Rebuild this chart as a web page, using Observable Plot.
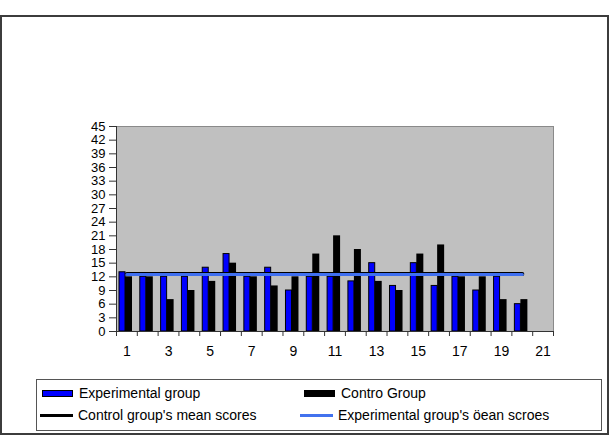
<!DOCTYPE html>
<html>
<head>
<meta charset="utf-8">
<script src="https://cdn.jsdelivr.net/npm/d3@7"></script>
<script src="https://cdn.jsdelivr.net/npm/@observablehq/plot@0.6"></script>
<style>
  html, body { margin: 0; padding: 0; background: #fff; }
  #chart { position: relative; width: 610px; height: 436px; font-family: "Liberation Sans", Arial, sans-serif; }
  #outer { position: absolute; left: 0px; top: 15px; width: 605px; height: 416px; border: 2px solid #3c3c3c; }
  #chart svg { position: absolute; left: 0; top: 0; }
  #legend { position: absolute; left: 36px; top: 379px; width: 564px; height: 50px; border: 1px solid #555; background: #fff; }
  .item { position: absolute; display: flex; align-items: center; font-size: 14px; color: #000; white-space: nowrap; }
  .swatch { width: 31px; height: 7px; border: 1px solid #000; margin-right: 6px; box-sizing: border-box; }
  .lineswatch { width: 33px; height: 3px; margin-right: 5px; }
</style>
</head>
<body>
<div id="chart">
  <div id="outer"></div>
  <div id="legend">
    <div class="item" style="left:5px;top:5px"><div class="swatch" style="background:#0000ff"></div>Experimental group</div>
    <div class="item" style="left:267px;top:5px"><div class="swatch" style="background:#000"></div>Contro Group</div>
    <div class="item" style="left:3px;top:27px"><div class="lineswatch" style="background:#000"></div>Control group's mean scores</div>
    <div class="item" style="left:263px;top:27px"><div class="lineswatch" style="background:#4272ee"></div>Experimental group's öean scroes</div>
  </div>
</div>
<script>
// Student numbers along the x axis (21 slots, the last one empty)
const categories = [1, 2, 3, 4, 5, 6, 7, 8, 9, 10, 11, 12, 13, 14, 15, 16, 17, 18, 19, 20, 21];
// Scores of the experimental group, students 1–20
const experimental = [13, 12, 12, 12, 14, 17, 12, 14, 9, 12, 12, 11, 15, 10, 15, 10, 12, 9, 12, 6];
// Scores of the control group, students 1–20
const control = [12, 12, 7, 9, 11, 15, 12, 10, 12, 17, 21, 18, 11, 9, 17, 19, 12, 12, 7, 7];
// Mean score of each group, drawn as a horizontal line
const controlMean = 12.6;
const experimentalMean = 12.5;
// Y axis tick values
const yTicks = [0, 3, 6, 9, 12, 15, 18, 21, 24, 27, 30, 33, 36, 39, 42, 45];

const rows = experimental.map((e, i) => ({student: categories[i], experimental: e, control: control[i]}));
const first = categories[0], last = categories[experimental.length - 1];
const meanLine = (v) => [{student: first, v}, {student: last, v}];

const W = 610, H = 436, mL = 116, mR = 57, mT = 126, mB = 105;
const bw = (W - mL - mR) / categories.length;

const plot = Plot.plot({
  width: W,
  height: H,
  marginLeft: mL,
  marginRight: mR,
  marginTop: mT,
  marginBottom: mB,
  style: {fontFamily: "'Liberation Sans', Arial, sans-serif", fontSize: "13px", background: "transparent", overflow: "visible"},
  x: {type: "band", domain: categories, padding: 0, round: false, axis: null},
  y: {domain: [0, 45], axis: null},
  marks: [
    Plot.frame({fill: "#c0c0c0", stroke: "#8a8a8a"}),
    Plot.barY(rows, {x: "student", y: "experimental", fill: "#0000ff", stroke: "#000", strokeWidth: 1, insetLeft: 3, insetRight: bw - 9}),
    Plot.barY(rows, {x: "student", y: "control", fill: "#000", insetLeft: 9, insetRight: bw - 16}),
    Plot.line(meanLine(controlMean), {x: "student", y: "v", stroke: "#000", strokeWidth: 4}),
    Plot.line(meanLine(experimentalMean), {x: "student", y: "v", stroke: "#3f6ff0", strokeWidth: 3}),
    Plot.ruleY([0], {stroke: "#333"}),
    Plot.ruleX([first], {dx: -bw / 2, y1: 0, y2: 45, stroke: "#333"}),
    Plot.axisY({ticks: yTicks, tickSize: 7, tickPadding: 4, stroke: "#333", fill: "#000", fontSize: 13, label: null}),
    Plot.axisX({tickSize: 0, tickPadding: 15, fill: "#000", fontSize: 14, label: null, tickFormat: d => d % 2 ? String(d) : ""}),
    Plot.axisX({tickSize: 5, tickFormat: () => "", label: null, dx: -bw / 2, stroke: "#333"}),
    Plot.axisX({ticks: [categories[categories.length - 1]], tickSize: 5, tickFormat: () => "", label: null, dx: bw / 2, stroke: "#333"})
  ]
});
document.getElementById("chart").insertBefore(plot, document.getElementById("legend"));
</script>
</body>
</html>
